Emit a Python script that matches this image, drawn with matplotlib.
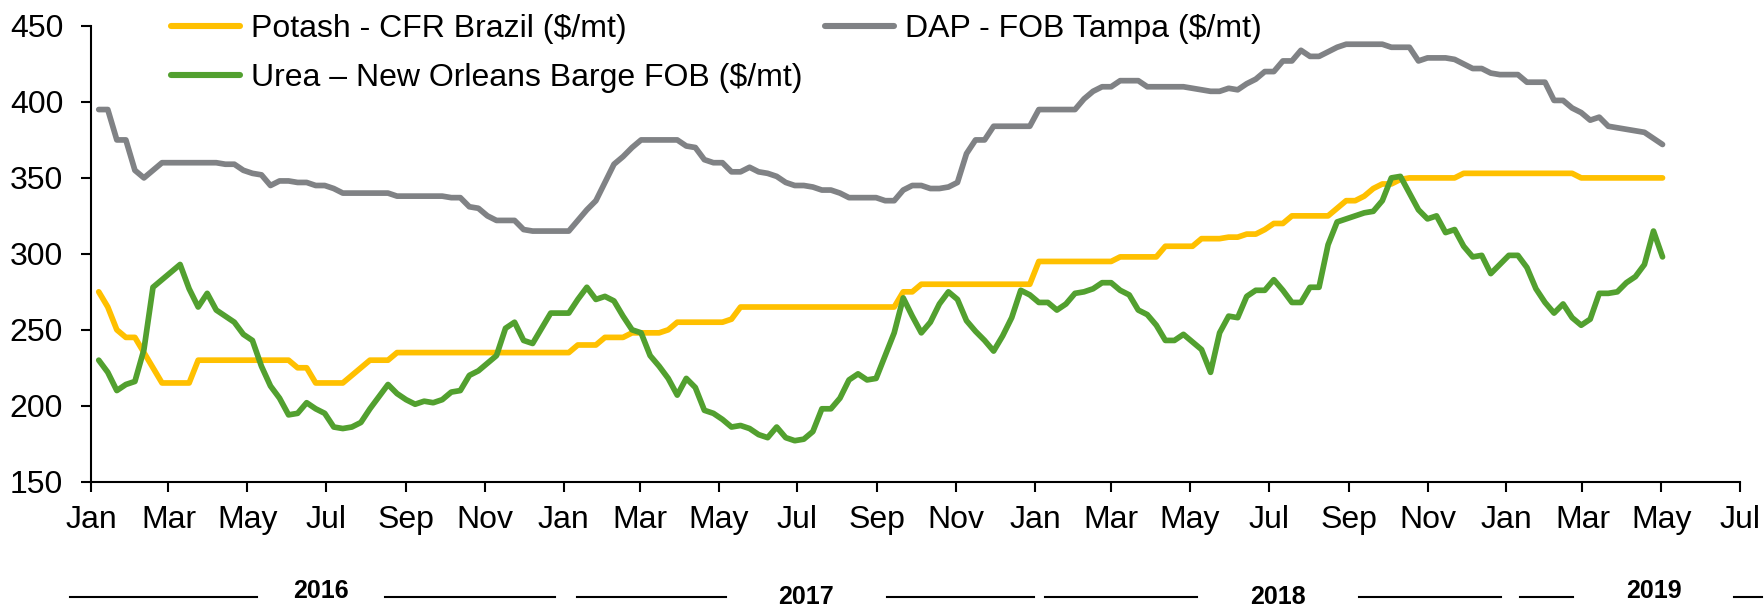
import matplotlib
matplotlib.use("Agg")
import matplotlib.pyplot as plt
import matplotlib.dates as mdates
from matplotlib.lines import Line2D
import pandas as pd

plt.rcParams['font.family'] = ['Liberation Sans', 'DejaVu Sans']

# ---------------- data (weekly) ----------------
start_date = "2016-01-07"

potash = [275, 265, 250, 245, 245, 235, 225, 215, 215, 215,
          215, 230, 230, 230, 230, 230, 230, 230, 230, 230,
          230, 230, 225, 225, 215, 215, 215, 215, 220, 225,
          230, 230, 230, 235, 235, 235, 235, 235, 235, 235,
          235, 235, 235, 235, 235, 235, 235, 235, 235, 235,
          235, 235, 235, 240, 240, 240, 245, 245, 245, 248,
          248, 248, 248, 250, 255, 255, 255, 255, 255, 255,
          257, 265, 265, 265, 265, 265, 265, 265, 265, 265,
          265, 265, 265, 265, 265, 265, 265, 265, 265, 275,
          275, 280, 280, 280, 280, 280, 280, 280, 280, 280,
          280, 280, 280, 280, 295, 295, 295, 295, 295, 295,
          295, 295, 295, 298, 298, 298, 298, 298, 305, 305,
          305, 305, 310, 310, 310, 311, 311, 313, 313, 316,
          320, 320, 325, 325, 325, 325, 325, 330, 335, 335,
          338, 343, 346, 346, 349, 350, 350, 350, 350, 350,
          350, 353, 353, 353, 353, 353, 353, 353, 353, 353,
          353, 353, 353, 353, 350, 350, 350, 350, 350, 350,
          350, 350, 350, 350]

dap = [395, 395, 375, 375, 355, 350, 355, 360, 360, 360,
       360, 360, 360, 360, 359, 359, 355, 353, 352, 345,
       348, 348, 347, 347, 345, 345, 343, 340, 340, 340,
       340, 340, 340, 338, 338, 338, 338, 338, 338, 337,
       337, 331, 330, 325, 322, 322, 322, 316, 315, 315,
       315, 315, 315, 322, 329, 335, 347, 359, 364, 370,
       375, 375, 375, 375, 375, 371, 370, 362, 360, 360,
       354, 354, 357, 354, 353, 351, 347, 345, 345, 344,
       342, 342, 340, 337, 337, 337, 337, 335, 335, 342,
       345, 345, 343, 343, 344, 347, 366, 375, 375, 384,
       384, 384, 384, 384, 395, 395, 395, 395, 395, 402,
       407, 410, 410, 414, 414, 414, 410, 410, 410, 410,
       410, 409, 408, 407, 407, 409, 408, 412, 415, 420,
       420, 427, 427, 434, 430, 430, 433, 436, 438, 438,
       438, 438, 438, 436, 436, 436, 427, 429, 429, 429,
       428, 425, 422, 422, 419, 418, 418, 418, 413, 413,
       413, 401, 401, 396, 393, 388, 390, 384, 383, 382,
       381, 380, 376, 372]

urea = [230, 222, 210, 214, 216, 237, 278, 283, 288, 293,
        277, 265, 274, 263, 259, 255, 247, 243, 226, 213,
        205, 194, 195, 202, 198, 195, 186, 185, 186, 189,
        198, 206, 214, 208, 204, 201, 203, 202, 204, 209,
        210, 220, 223, 228, 233, 251, 255, 243, 241, 251,
        261, 261, 261, 270, 278, 270, 272, 269, 259, 250,
        248, 233, 226, 218, 207, 218, 212, 197, 195, 191,
        186, 187, 185, 181, 179, 186, 179, 177, 178, 183,
        198, 198, 205, 217, 221, 217, 218, 233, 248, 271,
        259, 248, 255, 267, 275, 270, 256, 249, 243, 236,
        246, 258, 276, 273, 268, 268, 263, 267, 274, 275,
        277, 281, 281, 276, 273, 263, 260, 253, 243, 243,
        247, 242, 237, 222, 248, 259, 258, 272, 276, 276,
        283, 276, 268, 268, 278, 278, 306, 321, 323, 325,
        327, 328, 335, 350, 351, 340, 329, 323, 325, 314,
        316, 305, 298, 299, 287, 293, 299, 299, 291, 277,
        268, 261, 267, 258, 253, 257, 274, 274, 275, 281,
        285, 293, 315, 298]

series_names = ["Potash - CFR Brazil ($/mt)",
                "DAP - FOB Tampa ($/mt)",
                "Urea \u2013 New Orleans Barge FOB ($/mt)"]
years = ["2016", "2017", "2018", "2019"]

dates = pd.date_range(start_date, periods=len(potash), freq="7D")

# ---------------- styling ----------------
W, H = 1765, 606
C_POTASH = "#FFC000"
C_DAP = "#808285"
C_UREA = "#52A02F"
FS = 23
LW = 4.1

fig = plt.figure(figsize=(W / 100, H / 100), dpi=100)
ax_left, ax_right, ax_top, ax_bot = 91, 1740, 26, 481.7
ax = fig.add_axes([ax_left / W, 1 - ax_bot / H, (ax_right - ax_left) / W, (ax_bot - ax_top) / H])

l_pot, = ax.plot(dates, potash, color=C_POTASH, lw=LW, solid_capstyle="round", solid_joinstyle="round")
l_dap, = ax.plot(dates, dap, color=C_DAP, lw=LW, solid_capstyle="round", solid_joinstyle="round")
l_urea, = ax.plot(dates, urea, color=C_UREA, lw=LW, solid_capstyle="round", solid_joinstyle="round")

ax.set_xlim(pd.Timestamp("2016-01-01"), pd.Timestamp("2019-07-01"))
ax.set_ylim(150, 450)
ax.set_yticks([150, 200, 250, 300, 350, 400, 450])
ax.xaxis.set_major_locator(mdates.MonthLocator(bymonth=[1, 3, 5, 7, 9, 11]))
ax.xaxis.set_major_formatter(mdates.DateFormatter("%b"))

for s in ["top", "right"]:
    ax.spines[s].set_visible(False)
for s in ["left", "bottom"]:
    ax.spines[s].set_linewidth(1.5)
    ax.spines[s].set_color("black")

ax.tick_params(axis="y", direction="out", length=7, width=1.5, pad=13, labelsize=FS)
ax.tick_params(axis="x", direction="out", length=7.5, width=1.5, pad=9, labelsize=FS)

leg = fig.legend([l_pot, l_urea, l_dap],
                 [series_names[0], series_names[2], series_names[1]],
                 ncol=2, loc="upper left",
                 bbox_to_anchor=(171 / W, 1 - 14 / H),
                 frameon=False, fontsize=FS, borderpad=0, borderaxespad=0,
                 handlelength=2.15, handletextpad=0.36, labelspacing=0.6,
                 columnspacing=0.7)
for h in leg.get_lines():
    h.set_linewidth(4.4)

# ---------------- year band below axis ----------------
year_segments = [(70, 257), (385, 555), (577, 726), (887, 1034),
                 (1045, 1197), (1359, 1501), (1520, 1573), (1734, 1762)]
line_y = 597
for x0, x1 in year_segments:
    fig.add_artist(Line2D([x0 / W, x1 / W], [1 - line_y / H, 1 - line_y / H],
                          transform=fig.transFigure, color="black", lw=1.5))
year_pos = [(321, 591), (806, 597), (1278, 597), (1654, 591)]
for lab, (xc, yc) in zip(years, year_pos):
    fig.text(xc / W, 1 - yc / H, lab, ha="center", va="center",
             fontsize=18, fontweight="bold")

fig.savefig("out.png", dpi=100)
